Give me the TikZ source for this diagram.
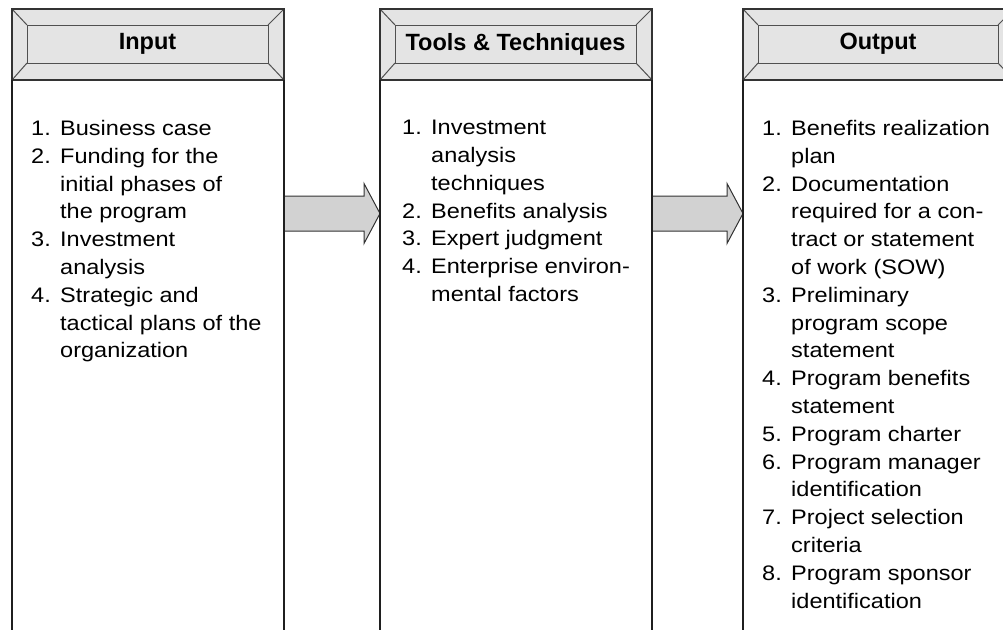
\documentclass[tikz,border=0pt]{standalone}
\usepackage{fontspec}
\setmainfont{Liberation Sans}
\newfontfamily\bodyfont[FakeStretch=1.12]{Liberation Sans}
\usepackage{xcolor}
\usetikzlibrary{calc}

\definecolor{headgray}{HTML}{E4E4E4}
\definecolor{arrowgray}{HTML}{D2D2D2}
\definecolor{edgegray}{HTML}{505050}

\tikzset{
	bevel/.style={draw=edgegray,line width=1pt},
	colline/.style={draw=black!88,line width=2.2pt},
	bigarrow/.style={fill=arrowgray,draw=black!80,line width=1pt,line join=miter},
	headtitle/.style={font=\fontsize{23.5}{28}\selectfont\bfseries,inner sep=0pt},
	listtext/.style={font=\bodyfont\fontsize{21}{27.8}\selectfont,align=left,anchor=north west,inner sep=0pt}
}

% number + hanging indent
\newcommand{\numitem}[1]{\makebox[29pt][l]{#1}}

% header with bevelled frame, and the two sides of the column below it
\newcommand{\colhead}[4]{%
	\fill[headgray] (#2,9) rectangle (#3,80);
	\draw[bevel] (#2+15,25) rectangle (#3-16,63);
	\draw[bevel] (#2,9) -- (#2+15,25) (#3,9) -- (#3-16,25)
		(#2,80) -- (#2+15,63) (#3,80) -- (#3-16,63);
	\draw[draw=black!80,line width=1.6pt] (#2,9) rectangle (#3,80);
	\node[headtitle] (#1) at ({(#2+#3)/2-0.5},44) {#4};
	\draw[colline] (#2,80) -- (#2,640);
	\draw[colline] (#3,80) -- (#3,640);
}

\begin{document}
\begin{tikzpicture}[x=1pt,y=-1pt]
	\useasboundingbox (0,0) rectangle (1003,629);
	\clip (0,0) rectangle (1003,629);
	\fill[white] (0,0) rectangle (1003,629);

	\coordinate (A) at (283,213.5);
	\coordinate (B) at (380,213.5);
	\coordinate (C) at (652,213.5);
	\coordinate (D) at (743,213.5);

	\begin{scope}
	\draw[bigarrow] ($(A)+(0,-17.5)$) -- ($(B)+(-16,-17.5)$) -- ($(B)+(-16,-30)$) -- (B)
		-- ($(B)+(-16,30)$) -- ($(B)+(-16,17.5)$) -- ($(A)+(0,17.5)$);
	\draw[bigarrow] ($(C)+(0,-17.5)$) -- ($(D)+(-16,-17.5)$) -- ($(D)+(-16,-30)$) -- (D)
		-- ($(D)+(-16,30)$) -- ($(D)+(-16,17.5)$) -- ($(C)+(0,17.5)$);
	\end{scope}

	\colhead{Input}{12}{284}{Input}
	\colhead{Tools}{380}{652}{Tools \& Techniques}
	\colhead{Output}{743}{1014}{Output}

	\node[listtext] (InList) at (31,120) {\numitem{1.}Business case\\
		\numitem{2.}Funding for the\\
		\numitem{}initial phases of\\
		\numitem{}the program\\
		\numitem{3.}Investment\\
		\numitem{}analysis\\
		\numitem{4.}Strategic and\\
		\numitem{}tactical plans of the\\
		\numitem{}organization};

	\node[listtext] (ToolsList) at (402,120) {\numitem{1.}Investment\\
		\numitem{}analysis\\
		\numitem{}techniques\\
		\numitem{2.}Benefits analysis\\
		\numitem{3.}Expert judgment\\
		\numitem{4.}Enterprise environ-\\
		\numitem{}mental factors};

	\node[listtext] (OutList) at (762,120) {\numitem{1.}Benefits realization\\
		\numitem{}plan\\
		\numitem{2.}Documentation\\
		\numitem{}required for a con-\\
		\numitem{}tract or statement\\
		\numitem{}of work (SOW)\\
		\numitem{3.}Preliminary\\
		\numitem{}program scope\\
		\numitem{}statement\\
		\numitem{4.}Program benefits\\
		\numitem{}statement\\
		\numitem{5.}Program charter\\
		\numitem{6.}Program manager\\
		\numitem{}identification\\
		\numitem{7.}Project selection\\
		\numitem{}criteria\\
		\numitem{8.}Program sponsor\\
		\numitem{}identification};
\end{tikzpicture}
\end{document}
